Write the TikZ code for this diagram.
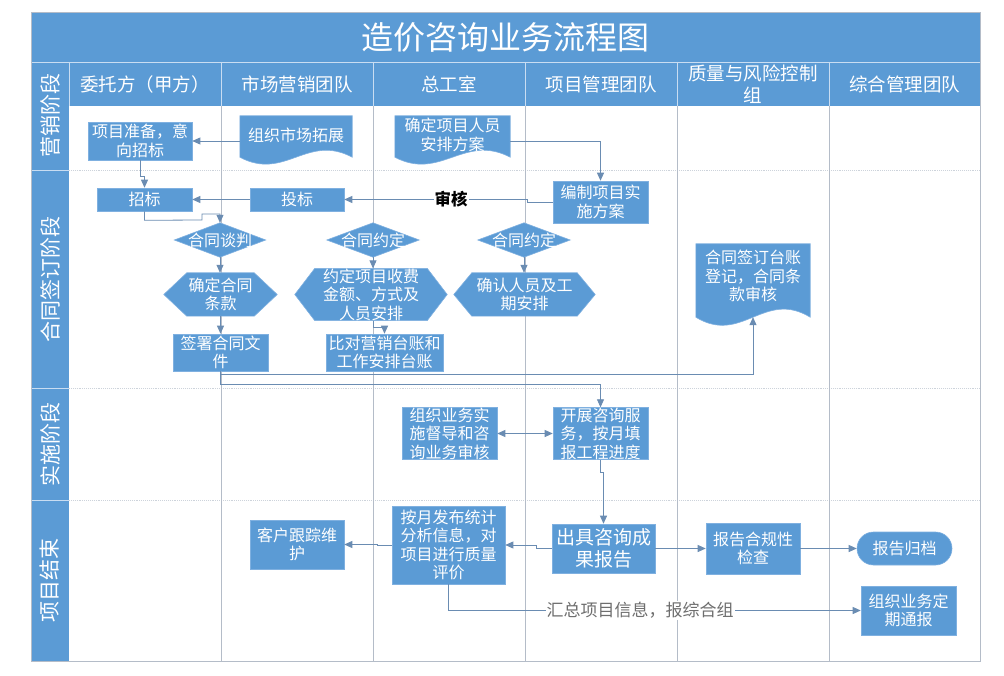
\documentclass[tikz,border=0pt]{standalone}
\usepackage{fontspec}
\setmainfont{Noto Sans CJK SC}
\usetikzlibrary{arrows.meta,calc}
\definecolor{bx}{HTML}{5B9BD5}
\definecolor{bxedge}{HTML}{7FB0E0}
\definecolor{ln}{HTML}{6A8CB2}
\definecolor{gridc}{HTML}{B4BCC8}
\definecolor{rowc}{HTML}{CDD3DB}
\definecolor{hsepc}{HTML}{C9DDF2}
\definecolor{lblc}{HTML}{6E6E6E}
\pgfdeclarelayer{back}
\pgfdeclarelayer{shp}
\pgfsetlayers{back,shp,main}
\begin{document}
\begin{tikzpicture}[x=1pt,y=-1pt,
  box/.style={fill=bx,draw=bxedge,line width=0.6pt,text=white,align=center,inner sep=0pt,font=\fontsize{16}{18.5}\selectfont},
  shpbox/.style={text=white,align=center,inner sep=0pt,font=\fontsize{16}{18.5}\selectfont},
  shpfill/.style={fill=bx,draw=bxedge,line width=0.6pt},
  conn/.style={draw=ln,line width=0.8pt,-{Triangle[length=8pt,width=7pt]}},
  hdr/.style={text=white,align=center,font=\fontsize{18.5}{22}\selectfont,inner sep=0pt},
  phase/.style={text=white,rotate=90,font=\fontsize{21}{24}\selectfont,inner sep=0pt},
  hsep/.style={draw=hsepc,line width=0.9pt},
  gridl/.style={draw=gridc,line width=0.8pt},
  rowl/.style={draw=rowc,line width=0.9pt,densely dotted},
]
\useasboundingbox (0,0) rectangle (1004,676);

% ---------- lanes ----------
\begin{pgfonlayer}{back}
\fill[white] (0,0) rectangle (1004,676);
\fill[bx] (31,12) rectangle (980,106);
\fill[bx] (31,106) rectangle (69,661);
\draw[hsep] (31,62) -- (980,62);
\foreach \x in {69,221,373,525,677,829} \draw[hsep] (\x,62) -- (\x,106);
\foreach \y in {170,388,500} \draw[hsep] (31,\y) -- (69,\y);
\foreach \y in {170,388,500} \draw[rowl] (69,\y) -- (980,\y);
\foreach \x in {221,373,525,677,829} \draw[gridl] (\x,106) -- (\x,661);
\draw[gridl] (980,106) -- (980,661) -- (69,661);
\draw[draw=gridc,line width=0.6pt] (31,12) rectangle (980,661);
\end{pgfonlayer}

\node[text=white,font=\fontsize{32}{36}\selectfont,inner sep=0pt] (title) at (505.5,37) {造价咨询业务流程图};

\node[hdr] (h1) at (145,84) {委托方（甲方）};
\node[hdr] (h2) at (297,84) {市场营销团队};
\node[hdr] (h3) at (449,84) {总工室};
\node[hdr] (h4) at (601,84) {项目管理团队};
\node[hdr] (h5) at (753,84) {质量与风险控制\\组};
\node[hdr] (h6) at (904.5,84) {综合管理团队};

\node[phase] (p1) at (50,116) {营销阶段};
\node[phase] (p2) at (50,279) {合同签订阶段};
\node[phase] (p3) at (50,444) {实施阶段};
\node[phase] (p4) at (50,580.5) {项目结束};

% ---------- nodes ----------
\node[box,minimum width=104pt,minimum height=38pt] (zb) at (140,141) {项目准备，意\\向招标};
\node[shpbox,minimum width=112pt,minimum height=38pt] (sctz) at (296,135) {组织市场拓展};
\node[shpbox,minimum width=115pt,minimum height=38pt] (qdry) at (452.5,135) {确定项目人员\\安排方案};
\node[box,minimum width=95pt,minimum height=42pt] (bzss) at (600.5,202) {编制项目实\\施方案};
\node[box,minimum width=95pt,minimum height=23pt] (zhaob) at (144.5,199.5) {招标};
\node[box,minimum width=94pt,minimum height=23pt] (toub) at (297,199.5) {投标};
\node[shpbox,minimum width=91pt,minimum height=34pt] (http) at (220,240) {合同谈判};
\node[shpbox,minimum width=92pt,minimum height=34pt] (htyd1) at (373,240) {合同约定};
\node[shpbox,minimum width=92pt,minimum height=34pt] (htyd2) at (524,240) {合同约定};
\node[shpbox,minimum width=113pt,minimum height=43pt] (qdtk) at (220.5,294.5) {确定合同\\条款};
\node[shpbox,minimum width=152pt,minimum height=43pt] (ydxm) at (371,294.5) {约定项目收费\\金额、方式及\\人员安排};
\node[shpbox,minimum width=141pt,minimum height=43pt] (qrry) at (524.5,294.5) {确认人员及工\\期安排};
\node[box,minimum width=95pt,minimum height=37pt] (qsht) at (220.5,352.5) {签署合同文\\件};
\node[box,minimum width=117pt,minimum height=37pt] (bdyx) at (384.5,352.5) {比对营销台账和\\工作安排台账};
\node[shpbox,minimum width=114pt,minimum height=64pt] (htqd) at (753,276) {合同签订台账\\登记，合同条\\款审核};
\node[box,minimum width=95pt,minimum height=51pt] (zzyw) at (449.5,433.5) {组织业务实\\施督导和咨\\询业务审核};
\node[box,minimum width=95pt,minimum height=51pt] (kzzx) at (600.5,433.5) {开展咨询服\\务，按月填\\报工程进度};
\node[box,minimum width=113pt,minimum height=78pt] (aybf) at (448.5,545) {按月发布统计\\分析信息，对\\项目进行质量\\评价};
\node[box,minimum width=94pt,minimum height=49pt] (khgz) at (297,544.5) {客户跟踪维\\护};
\node[box,minimum width=103pt,minimum height=49pt,font=\fontsize{19}{22}\selectfont] (cjzx) at (603.5,548.5) {出具咨询成\\果报告};
\node[box,minimum width=94pt,minimum height=51pt] (bghg) at (753,548.5) {报告合规性\\检查};
\node[box,minimum width=95pt,minimum height=33pt,rounded corners=16.5pt] (bggd) at (904.5,548.5) {报告归档};
\node[box,minimum width=95pt,minimum height=49pt] (zzdq) at (908.5,610.5) {组织业务定\\期通报};

% ---------- custom shapes ----------
\begin{pgfonlayer}{shp}
\path[shpfill] (sctz.north west) -- (sctz.north east) -- ($(sctz.south east)+(0,3)$)
  .. controls ($(sctz.south east)+(-45,-21)$) and ($(sctz.south west)+(45,27)$) .. ($(sctz.south west)+(0,3)$) -- cycle;
\path[shpfill] (qdry.north west) -- (qdry.north east) -- ($(qdry.south east)+(0,3)$)
  .. controls ($(qdry.south east)+(-46,-21)$) and ($(qdry.south west)+(46,27)$) .. ($(qdry.south west)+(0,3)$) -- cycle;
\path[shpfill] (htqd.north west) -- (htqd.north east) -- ($(htqd.south east)+(0,9)$)
  .. controls ($(htqd.south east)+(-46,-19)$) and ($(htqd.south west)+(46,37)$) .. ($(htqd.south west)+(0,9)$) -- cycle;
\foreach \n in {http,htyd1,htyd2}
  \path[shpfill] (\n.north) -- (\n.east) -- (\n.south) -- (\n.west) -- cycle;
\path[shpfill] (qdtk.west) -- ($(qdtk.north west)+(23,0)$) -- ($(qdtk.north east)+(-23,0)$) -- (qdtk.east)
  -- ($(qdtk.south east)+(-23,0)$) -- ($(qdtk.south west)+(23,0)$) -- cycle;
\path[shpfill] (ydxm.west) -- ($(ydxm.north west)+(20,0)$) -- ($(ydxm.north east)+(-20,0)$) -- (ydxm.east)
  -- ($(ydxm.south east)+(-20,0)$) -- ($(ydxm.south west)+(20,0)$) -- cycle;
\path[shpfill] (qrry.west) -- ($(qrry.north west)+(18,0)$) -- ($(qrry.north east)+(-18,0)$) -- (qrry.east)
  -- ($(qrry.south east)+(-18,0)$) -- ($(qrry.south west)+(18,0)$) -- cycle;
\end{pgfonlayer}

% ---------- connectors ----------
\draw[conn] (sctz.west |- zb.east) -- (zb.east);
\draw[conn] (zb.south) -- ++(0,16) -| (zhaob.north);
\draw[conn] ([yshift=-6pt]qdry.east) -| (bzss.north);
\draw[conn] (bzss.west) -- ++(-25,0) |- (toub.east);
\node[font=\bfseries\fontsize{16.5}{18}\selectfont,fill=white,inner sep=1pt] (sh) at (451,199.5) {审核};
\draw[conn] (toub.west) -- (zhaob.east);
\draw[conn] (zhaob.south) -- ++(0,9) -- (202,220) -- (202,214) -| (http.north);
\draw[conn] (http.south) -- (http.south |- qdtk.north);
\draw[conn] (qdtk.south) -- (qdtk.south |- qsht.north);
\draw[conn] (htyd1.south) -- (htyd1.south |- ydxm.north);
\draw[conn] (ydxm.south -| htyd1.south) -- ++(0,7) -| (bdyx.north);
\draw[conn] (htyd2.south) -- (htyd2.south |- qrry.north);
\coordinate (htqdb) at ($(htqd.south)+(0,9)$);
\draw[conn] (qsht.south) -- ++(0,3) -| (htqdb);
\draw[conn] (qsht.south) -- ++(0,13) -| (kzzx.north);
\draw[conn,{Triangle[length=8pt,width=7pt]}-{Triangle[length=8pt,width=7pt]}] (zzyw.east) -- (kzzx.west);
\draw[conn] (kzzx.south) -- ++(0,13) -| (cjzx.north);
\draw[conn] (cjzx.west) -- ++(-15,0) |- (aybf.east);
\draw[conn] (aybf.west) -- ++(-14,0) |- (khgz.east);
\draw[conn] (cjzx.east) -- (cjzx.east -| bghg.west);
\draw[conn] (bghg.east) -- (bggd.west);
\draw[conn] (aybf.south) |- (zzdq.west);
\node[text=lblc,fill=white,inner sep=1pt,font=\fontsize{17}{19}\selectfont] (hz) at (640,610.5) {汇总项目信息，报综合组};
\end{tikzpicture}
\end{document}
